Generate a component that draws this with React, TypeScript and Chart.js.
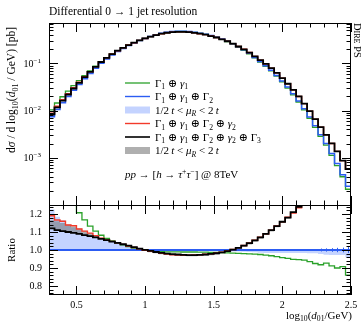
import React, { useEffect, useRef } from 'react';
import { Chart, registerables } from 'chart.js';

Chart.register(...registerables);

// ---------------- data ----------------
const binEdges = [
  0.30, 0.34, 0.38, 0.42, 0.46, 0.50, 0.54, 0.58, 0.62, 0.66, 0.70, 0.74, 0.78, 0.82,
  0.86, 0.90, 0.94, 0.98, 1.02, 1.06, 1.10, 1.14, 1.18, 1.22, 1.26, 1.30, 1.34, 1.38,
  1.42, 1.46, 1.50, 1.54, 1.58, 1.62, 1.66, 1.70, 1.74, 1.78, 1.82, 1.86, 1.90, 1.94,
  1.98, 2.02, 2.06, 2.10, 2.14, 2.18, 2.22, 2.26, 2.30, 2.34, 2.38, 2.42, 2.46, 2.50,
];

// reference prediction (Γ1⊕γ1⊕Γ2), pb
const refXsec = [
  0.00741, 0.0106, 0.0147, 0.0200, 0.0269, 0.0357, 0.0473, 0.0614, 0.0794, 0.101,
  0.125, 0.151, 0.179, 0.207, 0.240, 0.271, 0.306, 0.339, 0.373, 0.403,
  0.434, 0.456, 0.473, 0.480, 0.481, 0.475, 0.459, 0.439, 0.418, 0.389,
  0.361, 0.328, 0.297, 0.262, 0.226, 0.195, 0.164, 0.134, 0.110, 0.0897,
  0.0716, 0.0557, 0.0423, 0.0315, 0.0228, 0.0161, 0.0110, 0.00735, 0.00479, 0.00309,
  0.00200, 0.00123, 0.000759, 0.000437, 0.000251,
];

const greenRatio = [
  1.40, 1.37, 1.34, 1.30, 1.26, 1.207, 1.167, 1.133, 1.105, 1.082,
  1.065, 1.05, 1.038, 1.028, 1.019, 1.011, 1.005, 1.0, 0.996, 0.993,
  0.991, 0.99, 0.99, 0.99, 0.989, 0.989, 0.989, 0.988, 0.988, 0.987,
  0.987, 0.985, 0.984, 0.983, 0.981, 0.98, 0.978, 0.977, 0.975, 0.972,
  0.968, 0.963, 0.958, 0.953, 0.948, 0.946, 0.944, 0.935, 0.925, 0.918,
  0.927, 0.912, 0.90, 0.908, 0.86,
];

const redRatio = [
  1.19, 1.167, 1.16, 1.139, 1.135, 1.117, 1.105, 1.094, 1.08, 1.066,
  1.056, 1.048, 1.04, 1.031, 1.022, 1.014, 1.006, 0.999, 0.993, 0.987,
  0.981, 0.977, 0.974, 0.972, 0.971, 0.971, 0.972, 0.974, 0.976, 0.979,
  0.983, 0.988, 0.995, 1.003, 1.013, 1.025, 1.039, 1.054, 1.071, 1.09,
  1.11, 1.133, 1.156, 1.182, 1.205, 1.235, 1.28, 1.33, 1.38, 1.45,
  1.53, 1.64, 1.80, 2.0, 2.3,
];

const blackRatio = [
  1.12, 1.11, 1.105, 1.10, 1.095, 1.09, 1.083, 1.077, 1.07, 1.062,
  1.055, 1.047, 1.04, 1.032, 1.024, 1.016, 1.008, 1.001, 0.995, 0.989,
  0.984, 0.98, 0.977, 0.975, 0.973, 0.972, 0.972, 0.973, 0.975, 0.978,
  0.982, 0.987, 0.994, 1.002, 1.012, 1.024, 1.038, 1.053, 1.07, 1.09,
  1.11, 1.133, 1.157, 1.18, 1.21, 1.24, 1.28, 1.33, 1.38, 1.45,
  1.53, 1.64, 1.80, 2.0, 2.3,
];

const blueBandHigh = [
  1.225, 1.185, 1.165, 1.14, 1.125, 1.11, 1.095, 1.083, 1.073, 1.063,
  1.054, 1.046, 1.038, 1.03, 1.022, 1.014, 1.007, 1.002, 1, 1,
  1, 1, 1, 1, 1, 1, 1, 1, 1, 1,
  1, 1, 1, 1, 1, 1, 1, 1, 1, 1,
  1, 1, 1, 1, 1, 1, 1, 1, 1, 1,
  1, 1, 1, 1, 1,
];

const blueBandLow = [
  1, 1, 1, 1, 1, 1, 1, 1, 1, 1,
  1, 1, 1, 1, 1, 1, 1, 1, 0.997, 0.997,
  0.997, 0.997, 0.997, 0.997, 0.997, 0.997, 0.997, 0.997, 0.996, 0.996,
  0.995, 0.995, 0.994, 0.992, 0.991, 0.99, 0.989, 0.988, 0.985, 0.984,
  0.983, 0.983, 0.983, 0.983, 0.983, 0.983, 0.983, 0.982, 0.982, 0.978,
  0.973, 0.972, 0.972, 0.972, 0.96,
];

const grayBandHigh = [
  1.165, 1.16, 1.15, 1.14, 1.13, 1.12, 1.107, 1.095, 1.082, 1.068,
  1.058, 1.049, 1.041, 1.033, 1.025, 1.017, 1.009, 1.002, 0.996, 0.99,
  0.985, 0.981, 0.978, 0.976, 0.974, 0.973, 0.973, 0.974, 0.976, 0.979,
  0.983, 0.988, 0.995, 1.003, 1.013, 1.025, 1.039, 1.054, 1.071, 1.091,
  1.111, 1.134, 1.158, 1.181, 1.211, 1.241, 1.281, 1.331, 1.381, 1.451,
  1.531, 1.641, 1.801, 2.0, 2.3,
];

const grayBandLow = [
  1.12, 1.11, 1.105, 1.10, 1.095, 1.09, 1.083, 1.077, 1.07, 1.062,
  1.055, 1.046, 1.038, 1.03, 1.021, 1.012, 1.003, 0.995, 0.988, 0.982,
  0.977, 0.973, 0.97, 0.968, 0.966, 0.965, 0.965, 0.966, 0.968, 0.971,
  0.975, 0.98, 0.987, 0.995, 1.005, 1.017, 1.031, 1.046, 1.063, 1.083,
  1.103, 1.126, 1.15, 1.173, 1.203, 1.233, 1.273, 1.323, 1.373, 1.443,
  1.523, 1.633, 1.79, 1.99, 2.29,
];

// relative statistical error of the reference (drawn in ratio panel)
const refRelErr = [
  0, 0, 0, 0, 0, 0, 0, 0, 0, 0,
  0, 0, 0, 0, 0, 0, 0, 0, 0, 0,
  0, 0, 0, 0, 0, 0, 0, 0, 0, 0,
  0, 0, 0, 0, 0, 0, 0, 0, 0, 0,
  0, 0, 0, 0, 0, 0, 0, 0, 0, 0.008,
  0.009, 0.01, 0.012, 0.013, 0.016,
];

const xTickValues = [0.5, 1, 1.5, 2, 2.5];
const xTickLabels = ['0.5', '1', '1.5', '2', '2.5'];
const ratioTickValues = [0.8, 0.9, 1.0, 1.1, 1.2];
const ratioTickLabels = ['0.8', '0.9', '1.0', '1.1', '1.2'];
const logTickExponents = [-1, -2, -3];

// ---------------- styling ----------------
const W = 362;
const H = 324;
const PLOT_L = 49;
const PLOT_R = 351;
const TOP_T = 23;
const MID = 205;
const BOT_B = 295;

const C_GREEN = '#2aa12a';
const C_BLUE = '#2c5cf2';
const C_RED = '#f23a2a';
const C_BLACK = '#000000';
const C_BAND_BLUE = 'rgba(100,140,255,0.38)';
const C_BAND_GRAY = 'rgba(110,110,110,0.55)';

const FAM = '"Liberation Serif", "DejaVu Serif", serif';

type Seg = { t: string; it?: boolean; sub?: boolean; sup?: boolean };

function segFont(s: Seg, size: number) {
  const sz = s.sub || s.sup ? size * 0.7 : size;
  return `${s.it ? 'italic ' : ''}${sz}px ${FAM}`;
}
function richWidth(ctx: CanvasRenderingContext2D, segs: Seg[], size: number) {
  let w = 0;
  for (const s of segs) {
    ctx.font = segFont(s, size);
    w += ctx.measureText(s.t).width;
  }
  return w;
}
function drawRich(
  ctx: CanvasRenderingContext2D,
  segs: Seg[],
  x: number,
  y: number,
  size: number,
  align: 'left' | 'right' | 'center' = 'left',
  color = '#000',
) {
  const w = richWidth(ctx, segs, size);
  let cx = align === 'left' ? x : align === 'right' ? x - w : x - w / 2;
  ctx.fillStyle = color;
  ctx.textBaseline = 'alphabetic';
  ctx.textAlign = 'left';
  for (const s of segs) {
    ctx.font = segFont(s, size);
    const dy = s.sub ? size * 0.22 : s.sup ? -size * 0.4 : 0;
    ctx.fillText(s.t, cx, y + dy);
    cx += ctx.measureText(s.t).width;
  }
}

const G = (n: string): Seg[] => [{ t: 'Γ' }, { t: n, sub: true }];
const g = (n: string): Seg[] => [{ t: 'γ', it: true }, { t: n, sub: true }];
const OP: Seg = { t: ' ⊕ ' };
const BAND_TXT: Seg[] = [
  { t: '1/2\u2009' }, { t: 't', it: true }, { t: ' < ' }, { t: 'μ', it: true },
  { t: 'R', it: true, sub: true }, { t: ' < 2\u2009' }, { t: 't', it: true },
];

const legendEntries: { kind: 'line' | 'box'; color: string; width?: number; segs: Seg[] }[] = [
  { kind: 'line', color: C_GREEN, width: 1.3, segs: [...G('1'), OP, ...g('1')] },
  { kind: 'line', color: C_BLUE, width: 1.4, segs: [...G('1'), OP, ...g('1'), OP, ...G('2')] },
  { kind: 'box', color: C_BAND_BLUE, segs: BAND_TXT },
  { kind: 'line', color: C_RED, width: 1.4, segs: [...G('1'), OP, ...g('1'), OP, ...G('2'), OP, ...g('2')] },
  { kind: 'line', color: C_BLACK, width: 1.6, segs: [...G('1'), OP, ...g('1'), OP, ...G('2'), OP, ...g('2'), OP, ...G('3')] },
  { kind: 'box', color: C_BAND_GRAY, segs: BAND_TXT },
];

const processSegs: Seg[] = [
  { t: 'pp', it: true }, { t: ' → [' }, { t: 'h', it: true }, { t: ' → ' },
  { t: 'τ', it: true }, { t: '+', sup: true }, { t: 'τ', it: true }, { t: '−', sup: true },
  { t: '] @ 8TeV' },
];

const yTitleSegs: Seg[] = [
  { t: 'd' }, { t: 'σ', it: true }, { t: ' / d log' }, { t: '10', sub: true }, { t: '(' },
  { t: 'd', it: true }, { t: '01', sub: true }, { t: ' / GeV) [pb]' },
];
const xTitleSegs: Seg[] = [
  { t: 'log' }, { t: '10', sub: true }, { t: '(' }, { t: 'd', it: true }, { t: '01', sub: true },
  { t: '/GeV)' },
];

// ---------------- helpers ----------------
const steps = (vals: number[]) => [
  ...vals.map((y, i) => ({ x: binEdges[i], y })),
  { x: binEdges[binEdges.length - 1], y: vals[vals.length - 1] },
];
const times = (r: number[]) => refXsec.map((v, i) => v * r[i]);
const refRatio = refXsec.map((v) => v / v);

function lineDs(data: any[], color: string, width: number, order: number) {
  return {
    data, borderColor: color, borderWidth: width, stepped: true, fill: false,
    pointRadius: 0, order, clip: 0, borderJoinStyle: 'miter',
  };
}
function bandPair(hi: any[], lo: any[], color: string, order: number) {
  return [
    { data: hi, borderColor: 'transparent', borderWidth: 1, stepped: true, fill: '+1', backgroundColor: color, pointRadius: 0, order, clip: 0 },
    { data: lo, borderColor: 'transparent', borderWidth: 1, stepped: true, fill: false, pointRadius: 0, order: order + 1, clip: 0 },
  ];
}

function seg(ctx: CanvasRenderingContext2D, x1: number, y1: number, x2: number, y2: number) {
  ctx.beginPath();
  ctx.moveTo(x1, y1);
  ctx.lineTo(x2, y2);
  ctx.stroke();
}

function drawXTicks(ctx: CanvasRenderingContext2D, chart: any) {
  const { top, bottom } = chart.chartArea;
  const xs = chart.scales.x;
  for (let k = 3; k <= 25; k++) {
    const px = Math.round(xs.getPixelForValue(k / 10)) + 0.5;
    const len = k % 5 === 0 ? 9 : 4.5;
    seg(ctx, px, top, px, top + len);
    seg(ctx, px, bottom, px, bottom - len);
  }
}

const topPlugin = {
  id: 'topDecor',
  afterDraw(chart: any) {
    const ctx: CanvasRenderingContext2D = chart.ctx;
    const { left, right, top, bottom } = chart.chartArea;
    const ys = chart.scales.y;
    ctx.save();
    ctx.strokeStyle = '#000';
    ctx.lineWidth = 1;
    ctx.strokeRect(left + 0.5, top + 0.5, right - left - 1, bottom - top);
    drawXTicks(ctx, chart);
    // log y ticks
    for (let e = -4; e <= 0; e++) {
      for (let m = 1; m <= 9; m++) {
        const v = m * Math.pow(10, e);
        if (v < ys.min * 0.999 || v > ys.max) continue;
        const py = Math.round(ys.getPixelForValue(v)) + 0.5;
        const len = m === 1 ? 9 : 4.5;
        seg(ctx, left, py, left + len, py);
        seg(ctx, right, py, right - len, py);
      }
    }
    for (const e of logTickExponents) {
      const py = ys.getPixelForValue(Math.pow(10, e));
      drawRich(ctx, [{ t: '10' }, { t: '−' + Math.abs(e), sup: true }], 41, py + 3.5, 10, 'right');
    }
    // title
    drawRich(ctx, [{ t: 'Differential 0 → 1 jet resolution' }], left, 15, 11.5, 'left');
    // y title (rotated)
    ctx.save();
    ctx.translate(15, 27);
    ctx.rotate(-Math.PI / 2);
    drawRich(ctx, yTitleSegs, 0, 0, 11.5, 'right');
    ctx.restore();
    // generator tag
    ctx.save();
    ctx.translate(354, 23);
    ctx.rotate(Math.PI / 2);
    drawRich(ctx, [{ t: 'D' }], 0, 0, 10.5, 'left');
    ctx.font = `10.5px ${FAM}`;
    const dw = ctx.measureText('D').width;
    ctx.font = `8px ${FAM}`;
    ctx.fillText('IRE', dw, 0);
    const iw = ctx.measureText('IRE').width;
    ctx.font = `10.5px ${FAM}`;
    ctx.fillText(' PS', dw + iw, 0);
    ctx.restore();
    // legend
    const lx0 = 125;
    const lx1 = 150;
    const tx = 155;
    legendEntries.forEach((en, i) => {
      const y = 83 + i * 13.5;
      if (en.kind === 'line') {
        ctx.strokeStyle = en.color;
        ctx.lineWidth = en.width || 1.3;
        seg(ctx, lx0, y, lx1, y);
      } else {
        ctx.fillStyle = en.color;
        ctx.fillRect(lx0, y - 3.5, lx1 - lx0, 7);
      }
      drawRich(ctx, en.segs, tx, y + 3.8, 11, 'left');
    });
    drawRich(ctx, processSegs, 125, 178, 11, 'left');
    ctx.restore();
  },
};

const ratioPlugin = {
  id: 'ratioDecor',
  afterDraw(chart: any) {
    const ctx: CanvasRenderingContext2D = chart.ctx;
    const { left, right, top, bottom } = chart.chartArea;
    const xs = chart.scales.x;
    const ys = chart.scales.y;
    ctx.save();
    // reference error bars
    ctx.strokeStyle = C_BLUE;
    ctx.lineWidth = 1;
    refRelErr.forEach((err, i) => {
      if (!err) return;
      const cx = Math.round(xs.getPixelForValue((binEdges[i] + binEdges[i + 1]) / 2)) + 0.5;
      seg(ctx, cx, ys.getPixelForValue(1 - err), cx, ys.getPixelForValue(1 + err));
    });
    ctx.strokeStyle = '#000';
    ctx.lineWidth = 1;
    ctx.strokeRect(left + 0.5, top + 0.5, right - left - 1, bottom - top - 1);
    drawXTicks(ctx, chart);
    for (let k = 38; k <= 62; k++) {
      const py = Math.round(ys.getPixelForValue(k / 50)) + 0.5;
      const len = k % 5 === 0 ? 9 : 4.5;
      seg(ctx, left, py, left + len, py);
      seg(ctx, right, py, right - len, py);
    }
    ratioTickValues.forEach((v, i) => {
      drawRich(ctx, [{ t: ratioTickLabels[i] }], 42, ys.getPixelForValue(v) + 3.3, 10, 'right');
    });
    xTickValues.forEach((v, i) => {
      drawRich(ctx, [{ t: xTickLabels[i] }], xs.getPixelForValue(v), 308, 10, 'center');
    });
    drawRich(ctx, xTitleSegs, 352, 319, 11, 'right');
    ctx.save();
    ctx.translate(15, 250);
    ctx.rotate(-Math.PI / 2);
    drawRich(ctx, [{ t: 'Ratio' }], 0, 0, 11, 'center');
    ctx.restore();
    ctx.restore();
  },
};

export default function App() {
  const topRef = useRef<HTMLCanvasElement>(null);
  const botRef = useRef<HTMLCanvasElement>(null);

  useEffect(() => {
    document.body.style.margin = '0';
    const common = {
      animation: false as const,
      responsive: false,
      maintainAspectRatio: false,
      devicePixelRatio: 1,
      plugins: { legend: { display: false }, tooltip: { enabled: false } },
      elements: { point: { radius: 0 } },
    };

    const topChart = new Chart(topRef.current as HTMLCanvasElement, {
      type: 'line',
      data: {
        datasets: [
          ...bandPair(steps(times(blueBandHigh)), steps(times(blueBandLow)), C_BAND_BLUE, 20),
          ...bandPair(steps(times(grayBandHigh)), steps(times(grayBandLow)), C_BAND_GRAY, 16),
          lineDs(steps(times(greenRatio)), C_GREEN, 1.3, 4),
          lineDs(steps(refXsec), C_BLUE, 1.5, 3),
          lineDs(steps(times(redRatio)), C_RED, 1.4, 2),
          lineDs(steps(times(blackRatio)), C_BLACK, 1.8, 1),
        ] as any,
      },
      options: {
        ...common,
        layout: { padding: { left: PLOT_L, top: TOP_T, right: W - PLOT_R, bottom: H - MID } },
        scales: {
          x: { type: 'linear', min: 0.3, max: 2.5, display: false },
          y: { type: 'logarithmic', min: 1e-4, max: 0.72, display: false },
        },
      } as any,
      plugins: [topPlugin],
    });

    const botChart = new Chart(botRef.current as HTMLCanvasElement, {
      type: 'line',
      data: {
        datasets: [
          ...bandPair(steps(blueBandHigh), steps(blueBandLow), C_BAND_BLUE, 20),
          ...bandPair(steps(grayBandHigh), steps(grayBandLow), C_BAND_GRAY, 16),
          lineDs(steps(greenRatio), C_GREEN, 1.3, 4),
          lineDs(steps(refRatio), C_BLUE, 1.8, 3),
          lineDs(steps(redRatio), C_RED, 1.4, 2),
          lineDs(steps(blackRatio), C_BLACK, 1.8, 1),
        ] as any,
      },
      options: {
        ...common,
        layout: { padding: { left: PLOT_L, top: MID, right: W - PLOT_R, bottom: H - BOT_B } },
        scales: {
          x: { type: 'linear', min: 0.3, max: 2.5, display: false },
          y: { type: 'linear', min: 0.75, max: 1.25, display: false },
        },
      } as any,
      plugins: [ratioPlugin],
    });

    return () => {
      topChart.destroy();
      botChart.destroy();
    };
  }, []);

  const cs: React.CSSProperties = { position: 'absolute', left: 0, top: 0, width: W, height: H };
  return (
    <div style={{ position: 'relative', width: W, height: H, background: '#fff', overflow: 'hidden' }}>
      <canvas ref={botRef} width={W} height={H} style={cs} />
      <canvas ref={topRef} width={W} height={H} style={cs} />
    </div>
  );
}
